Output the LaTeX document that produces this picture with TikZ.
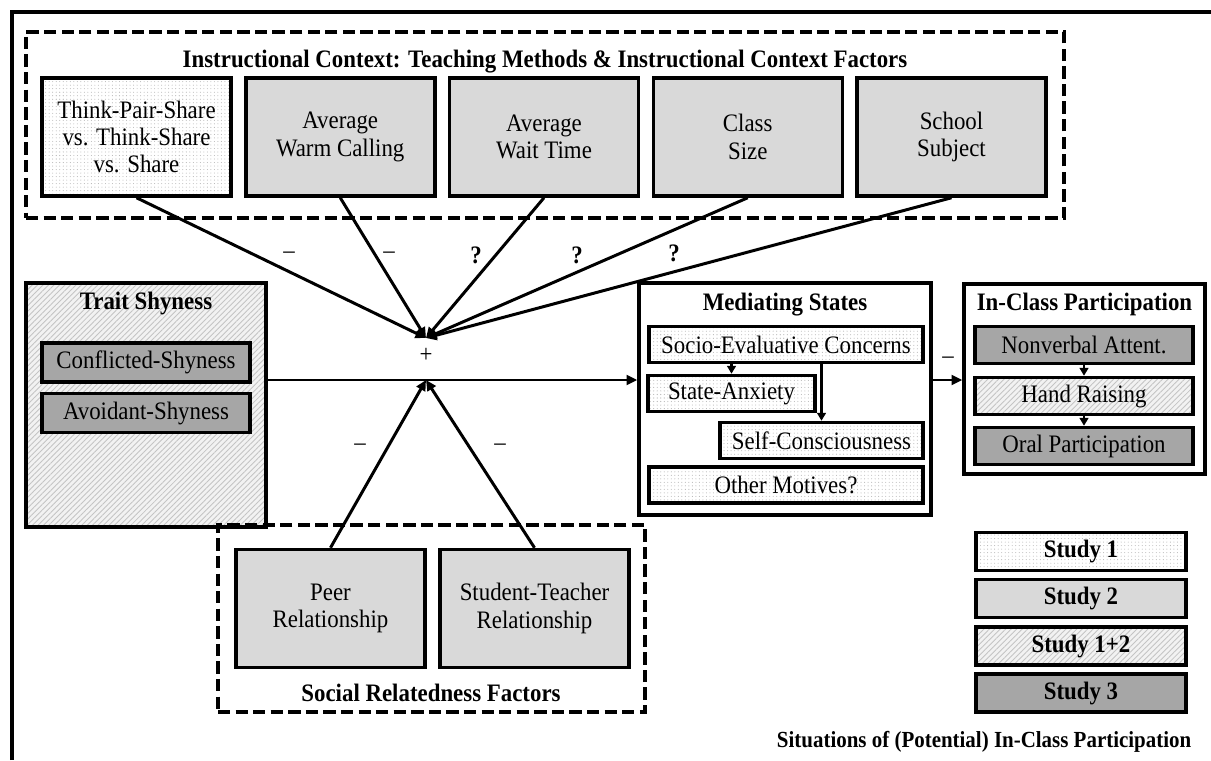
\documentclass[tikz,border=0pt]{standalone}
\usepackage{fontspec}
\setmainfont{Liberation Serif}[FakeStretch=0.91]
\usetikzlibrary{arrows.meta, positioning, patterns.meta}
\definecolor{studytwo}{HTML}{D9D9D9}
\definecolor{studythree}{HTML}{A6A6A6}
\definecolor{dotgray}{HTML}{B4B4B4}
\definecolor{hatchgray}{HTML}{C4C4C4}
\definecolor{hatchbg}{HTML}{F2F2F2}

\begin{document}
\begin{tikzpicture}[
    font=\fontsize{14.3pt}{15.6pt}\selectfont,
    box/.style={draw=black, line width=2pt, align=center, inner sep=0pt},
    dotbox/.style={box, pattern={Dots[distance=2pt, radius=0.3pt]}, pattern color=dotgray},
    greybox/.style={box, fill=studytwo},
    hatchbox/.style={box, preaction={fill=hatchbg}, pattern={Lines[angle=45, distance=2.2pt, line width=0.5pt]}, pattern color=hatchgray},
    darkbox/.style={box, fill=studythree},
    factor/.style={minimum width=3.78cm, minimum height=2.36cm},
    inbox/.style={minimum height=0.72cm},
    legendbox/.style={minimum width=4.2cm, minimum height=0.76cm, font=\fontsize{14.3pt}{15.6pt}\selectfont\bfseries},
    group/.style={draw=black, line width=1.8pt, dash pattern=on 7pt off 3pt},
    head/.style={font=\fontsize{14.3pt}{15.6pt}\selectfont\bfseries},
    arrow/.style={-{Triangle[length=6pt, width=5.5pt]}, line width=1.7pt},
    smallarrow/.style={-{Triangle[length=4.5pt, width=5pt]}, line width=1.3pt},
]
\useasboundingbox (0,0) rectangle (24.22,15.2);

% Frame
\draw[line width=1.9pt] (0.24,0) -- (0.24,14.96) -- (24.22,14.96);

% Instructional context
\node[group, minimum width=20.76cm, minimum height=3.72cm] (instr) at (10.9, 12.7) {};
\node[head] (instrtitle) at (10.9, 13.96) {Instructional Context: Teaching Methods \& Instructional Context Factors};
\node[dotbox, factor] (tps) at (2.73, 12.46) {Think-Pair-Share\\vs. Think-Share\\vs. Share};
\node[greybox, factor] (warm) at (6.805, 12.46) {Average\\Warm Calling};
\node[greybox, factor] (wait) at (10.88, 12.46) {Average\\Wait Time};
\node[greybox, factor] (size) at (14.955, 12.46) {Class\\Size};
\node[greybox, factor] (subj) at (19.03, 12.46) {School\\Subject};

% Trait shyness
\node[hatchbox, minimum width=4.8cm, minimum height=4.88cm] (trait) at (2.92, 7.1) {};
\node[head] (traittitle) at (2.92, 9.14) {Trait Shyness};
\node[darkbox, inbox, minimum width=4.16cm, minimum height=0.78cm] (confl) at (2.92, 7.95) {Conflicted-Shyness};
\node[darkbox, inbox, minimum width=4.16cm, minimum height=0.78cm] (avoid) at (2.92, 6.94) {Avoidant-Shyness};

% Mediating states
\node[box, fill=white, minimum width=5.84cm, minimum height=4.64cm] (med) at (15.7, 7.22) {};
\node[head] (medtitle) at (15.7, 9.1) {Mediating States};
\node[dotbox, inbox, minimum width=5.48cm] (socio) at (15.72, 8.31) {Socio-Evaluative Concerns};
\node[dotbox, inbox, minimum width=3.34cm] (state) at (14.63, 7.33) {State-Anxiety};
\node[dotbox, inbox, minimum width=4.06cm] (selfc) at (16.43, 6.39) {Self-Consciousness};
\node[dotbox, inbox, minimum width=5.48cm] (other) at (15.72, 5.5) {Other Motives?};

% In-class participation
\node[box, fill=white, minimum width=4.82cm, minimum height=3.8cm] (icp) at (21.69, 7.62) {};
\node[head] (icptitle) at (21.69, 9.12) {In-Class Participation};
\node[darkbox, inbox, minimum width=4.36cm, minimum height=0.74cm] (nonv) at (21.68, 8.3) {Nonverbal Attent.};
\node[hatchbox, inbox, minimum width=4.36cm, minimum height=0.74cm] (hand) at (21.68, 7.28) {Hand Raising};
\node[darkbox, inbox, minimum width=4.36cm, minimum height=0.74cm] (oral) at (21.68, 6.28) {Oral Participation};

% Social relatedness
\node[group, minimum width=8.54cm, minimum height=3.74cm] (social) at (8.63, 2.83) {};
\node[greybox, factor] (peer) at (6.61, 3.03) {Peer\\Relationship};
\node[greybox, factor] (stud) at (10.69, 3.03) {Student-Teacher\\Relationship};
\node[head] (socialtitle) at (8.62, 1.34) {Social Relatedness Factors};

% Moderation point
\coordinate (hub) at (8.52, 7.6);
\coordinate (hubtop) at (8.52, 8.44);
\node (plus) at (8.52, 8.1) {+};

% Arrows
\foreach \src in {tps, warm, wait, size, subj} {
    \draw[arrow] (\src.south) -- (hubtop);
}
\foreach \src in {peer, stud} {
    \draw[arrow] (\src.north) -- (hub);
}
\draw[arrow] (trait.east |- hub) -- (med.west |- hub);
\draw[arrow] (med.east |- hub) -- (icp.west |- hub);
\draw[smallarrow] (socio.south -| state.north) -- (state.north);
\draw[smallarrow] (socio.south -| selfc.north) -- (selfc.north);
\draw[smallarrow] (nonv) -- (hand);
\draw[smallarrow] (hand) -- (oral);

% Signs
\node (sg1) at (5.78, 10.1) {\textendash};
\node (sg2) at (7.78, 10.1) {\textendash};
\node[head] (sg3) at (9.52, 10.1) {?};
\node[head] (sg4) at (11.54, 10.1) {?};
\node[head] (sg5) at (13.48, 10.14) {?};
\node (sg6) at (7.2, 6.26) {\textendash};
\node (sg7) at (10.0, 6.26) {\textendash};
\node (sg8) at (18.96, 8.0) {\textendash};

% Legend
\node[dotbox, legendbox] (leg1) at (21.62, 4.17) {Study 1};
\node[greybox, legendbox] (leg2) at (21.62, 3.23) {Study 2};
\node[hatchbox, legendbox] (leg3) at (21.62, 2.28) {Study 1+2};
\node[darkbox, legendbox] (leg4) at (21.62, 1.34) {Study 3};

\node[head, font=\fontsize{13.1pt}{14.4pt}\selectfont\bfseries, anchor=east] (situ) at (23.95, 0.36) {Situations of (Potential) In-Class Participation};

\end{tikzpicture}
\end{document}
